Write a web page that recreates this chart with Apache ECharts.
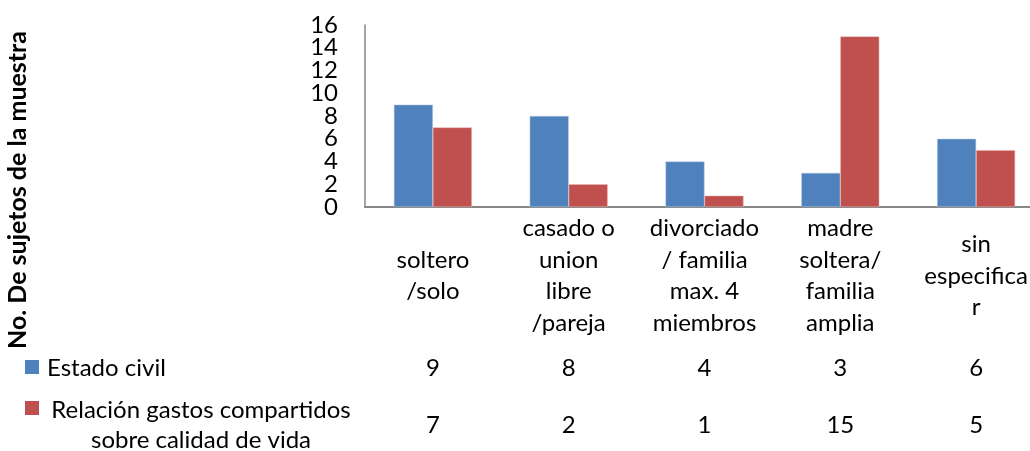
<!DOCTYPE html>
<html>
<head>
<meta charset="utf-8">
<script src="https://cdn.jsdelivr.net/npm/echarts@6/dist/echarts.min.js"></script>
<style>
    html, body { margin: 0; padding: 0; background: #fff; }
    #chart { width: 1030px; height: 451px; }
</style>
</head>
<body>
<div id="chart"></div>
<script>
    // categorias del eje x
    const categories = [
        'soltero\n/solo',
        'casado o\nunion\nlibre\n/pareja',
        'divorciado\n/ familia\nmax. 4\nmiembros',
        'madre\nsoltera/\nfamilia\namplia',
        'sin\nespecifica\nr'
    ];
    const estadoCivil = [9, 8, 4, 3, 6];
    const relacionGastos = [7, 2, 1, 15, 5];
    const seriesNames = ['Estado civil', 'Relación gastos compartidos\nsobre calidad de vida'];
    const yTitle = 'No. De sujetos de la muestra';
    const yTicks = [0, 2, 4, 6, 8, 10, 12, 14, 16];
    const colors = ['#4F81BD', '#C0504D'];

    const font = 'Lato, "Open Sans", sans-serif';
    const fontSize = 24;
    const chart = echarts.init(document.getElementById('chart'));

    // eje invisible que solo pinta una fila de la tabla de datos
    function tableAxis(values, margin) {
        return {
            type: 'category',
            position: 'bottom',
            data: values.map(String),
            axisLine: { show: false },
            axisTick: { show: false },
            splitLine: { show: false },
            axisLabel: {
                margin: margin,
                verticalAlign: 'middle',
                color: '#000',
                fontSize: fontSize,
                fontFamily: font
            }
        };
    }

    // las etiquetas del eje y se reparten en dos ejes para que no se oculten
    function valueAxis(labels, showLine) {
        return {
            type: 'value',
            position: 'left',
            min: 0,
            max: 16,
            interval: 2,
            axisLine: { show: showLine, lineStyle: { color: '#868686', width: 1.5 } },
            axisTick: { show: false },
            splitLine: { show: false },
            axisLabel: {
                margin: 27,
                customValues: labels,
                color: '#000',
                fontSize: fontSize,
                fontFamily: font
            }
        };
    }

    chart.setOption({
        animation: false,
        textStyle: { fontFamily: font },
        grid: {
            left: 365,
            right: -14,
            top: 25,
            height: 182,
            outerBoundsMode: 'none'
        },
        xAxis: [
            {
                type: 'category',
                data: categories,
                axisLine: { lineStyle: { color: '#868686', width: 2 } },
                axisTick: { show: false },
                axisLabel: {
                    margin: 69,
                    verticalAlign: 'middle',
                    lineHeight: 31.5,
                    color: '#000',
                    fontSize: fontSize,
                    fontFamily: font,
                    interval: 0
                }
            },
            tableAxis(estadoCivil, 161),
            tableAxis(relacionGastos, 218)
        ],
        yAxis: [
            valueAxis(yTicks.filter((v, i) => i % 2 === 0), true),
            valueAxis(yTicks.filter((v, i) => i % 2 === 1), false)
        ],
        series: [
            {
                name: seriesNames[0],
                type: 'bar',
                data: estadoCivil,
                barWidth: 39,
                barGap: '0%',
                itemStyle: { color: colors[0], borderColor: '#b9cde5', borderWidth: 0.5 }
            },
            {
                name: seriesNames[1],
                type: 'bar',
                data: relacionGastos,
                barWidth: 39,
                barGap: '0%',
                itemStyle: { color: colors[1], borderColor: '#e6b9b8', borderWidth: 0.5 }
            }
        ],
        graphic: [
            // titulo del eje y
            {
                type: 'text', x: 18, y: 190, rotation: Math.PI / 2,
                style: {
                    text: yTitle, fill: '#000', font: 'bold 25px ' + font,
                    align: 'center', verticalAlign: 'middle'
                }
            },
            // leyenda de la tabla de datos
            { type: 'rect', x: 25, y: 360, shape: { width: 14, height: 14 }, style: { fill: colors[0] } },
            {
                type: 'text', x: 47, y: 368,
                style: { text: seriesNames[0], fill: '#000', font: fontSize + 'px ' + font, verticalAlign: 'middle' }
            },
            { type: 'rect', x: 25, y: 401, shape: { width: 14, height: 14 }, style: { fill: colors[1] } },
            {
                type: 'text', x: 201, y: 425,
                style: {
                    text: seriesNames[1], fill: '#000', font: fontSize + 'px ' + font,
                    align: 'center', verticalAlign: 'middle', lineHeight: 30
                }
            }
        ]
    });
</script>
</body>
</html>
